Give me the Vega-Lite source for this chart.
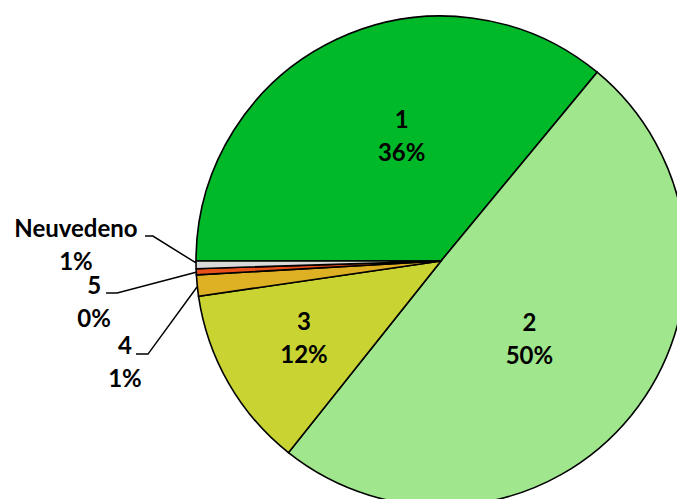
{
  "$schema": "https://vega.github.io/schema/vega-lite/v6.json",
  "width": 472,
  "height": 476,
  "padding": {"left": 205, "top": 23, "right": 0, "bottom": 0},
  "autosize": {"type": "none"},
  "background": "white",
  "config": {"view": {"stroke": null}},
  "datasets": {
    "slices": [
      {"category": "1", "value": 36.0, "pct": "36%"},
      {"category": "2", "value": 49.7, "pct": "50%"},
      {"category": "3", "value": 12.0, "pct": "12%"},
      {"category": "4", "value": 1.4, "pct": "1%"},
      {"category": "5", "value": 0.4, "pct": "0%"},
      {"category": "Neuvedeno", "value": 0.5, "pct": "1%"}
    ],
    "leaders": [
      {"category": "Neuvedeno", "step": 0, "px": -120.8, "py": 10.2},
      {"category": "Neuvedeno", "step": 1, "px": -117.6, "py": 10.2},
      {"category": "Neuvedeno", "step": 2, "px": -100.0, "py": -0.8},
      {"category": "5", "step": 0, "px": -136.7, "py": -13.1},
      {"category": "5", "step": 1, "px": -132.2, "py": -13.1},
      {"category": "5", "step": 2, "px": -99.6, "py": -4.5},
      {"category": "4", "step": 0, "px": -124.5, "py": -38.0},
      {"category": "4", "step": 1, "px": -119.6, "py": -38.0},
      {"category": "4", "step": 2, "px": -99.6, "py": -10.6}
    ],
    "callouts": [
      {"category": "Neuvedeno", "pct": "1%", "lx": -149.0, "ly": 6.1},
      {"category": "5", "pct": "0%", "lx": -141.6, "ly": -17.3},
      {"category": "4", "pct": "1%", "lx": -129.0, "ly": -42.0}
    ]
  },
  "layer": [
    {
      "data": {"name": "slices"},
      "mark": {"type": "arc", "radius": 245, "stroke": "black", "strokeWidth": 1.6},
      "encoding": {
        "theta": {"field": "value", "type": "quantitative", "scale": {"range": [4.71238898, 10.99557429]}},
        "color": {
          "field": "category", "type": "nominal", "legend": null,
          "scale": {
            "domain": ["1", "2", "3", "4", "5", "Neuvedeno"],
            "range": ["#00B928", "#A0E68C", "#C9D432", "#DEB024", "#E8501A", "#D9D9D9"]
          }
        }
      }
    },
    {
      "data": {"name": "slices"},
      "transform": [{"calculate": "[datum.category, datum.pct]", "as": "label"}],
      "mark": {"type": "text", "radius": 130, "dx": 16, "dy": -22.5, "font": "Lato", "fontWeight": "bold", "fontSize": 24, "lineHeight": 33, "baseline": "middle", "align": "center", "color": "black"},
      "encoding": {
        "theta": {"field": "value", "type": "quantitative", "stack": true},
        "detail": {"field": "category", "type": "nominal"},
        "text": {"condition": {"test": "datum.category === '1'", "field": "label"}, "value": ""}
      }
    },
    {
      "data": {"name": "slices"},
      "transform": [{"calculate": "[datum.category, datum.pct]", "as": "label"}],
      "mark": {"type": "text", "radius": 119, "dx": -4, "dy": -11.5, "font": "Lato", "fontWeight": "bold", "fontSize": 24, "lineHeight": 33, "baseline": "middle", "align": "center", "color": "black"},
      "encoding": {
        "theta": {"field": "value", "type": "quantitative", "stack": true},
        "detail": {"field": "category", "type": "nominal"},
        "text": {"condition": {"test": "datum.category === '2'", "field": "label"}, "value": ""}
      }
    },
    {
      "data": {"name": "slices"},
      "transform": [{"calculate": "[datum.category, datum.pct]", "as": "label"}],
      "mark": {"type": "text", "radius": 158, "dy": -16.5, "font": "Lato", "fontWeight": "bold", "fontSize": 24, "lineHeight": 33, "baseline": "middle", "align": "center", "color": "black"},
      "encoding": {
        "theta": {"field": "value", "type": "quantitative", "stack": true},
        "detail": {"field": "category", "type": "nominal"},
        "text": {"condition": {"test": "datum.category === '3'", "field": "label"}, "value": ""}
      }
    },
    {
      "data": {"name": "leaders"},
      "mark": {"type": "line", "color": "black", "strokeWidth": 1.5},
      "encoding": {
        "x": {"field": "px", "type": "quantitative", "scale": {"domain": [-96.33, 96.33], "nice": false, "zero": false}, "axis": null},
        "y": {"field": "py", "type": "quantitative", "scale": {"domain": [-97.14, 97.14], "nice": false, "zero": false}, "axis": null},
        "detail": {"field": "category", "type": "nominal"},
        "order": {"field": "step", "type": "quantitative"}
      }
    },
    {
      "data": {"name": "callouts"},
      "transform": [{"calculate": "[datum.category, datum.pct]", "as": "label"}],
      "mark": {"type": "text", "dy": -16.5, "font": "Lato", "fontWeight": "bold", "fontSize": 24, "lineHeight": 33, "baseline": "middle", "align": "center", "color": "black"},
      "encoding": {
        "x": {"field": "lx", "type": "quantitative"},
        "y": {"field": "ly", "type": "quantitative"},
        "text": {"field": "label"}
      }
    }
  ]
}
